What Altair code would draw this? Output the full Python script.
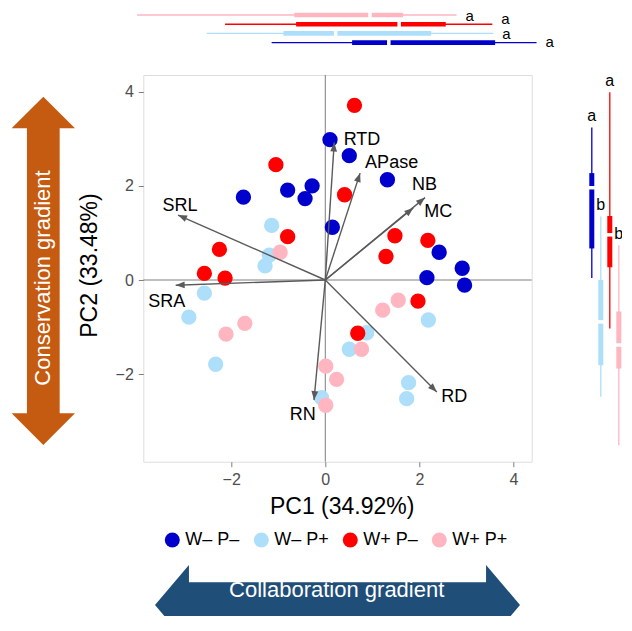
import altair as alt
import numpy as np
import pandas as pd

FONT = "Liberation Sans"

# ---------------- data ----------------
groups = ["W– P–", "W– P+", "W+ P–", "W+ P+"]
palette = ["#0000cd", "#addffa", "#ff0000", "#ffb6c1"]

# PCA scores per treatment
pc1_wm_pm = [0.10, 0.51, 1.32, 0.15, -1.74, -0.80, -0.28, -0.43, 2.42, 2.16, 2.91, 2.96]
pc2_wm_pm = [2.98, 2.64, 2.13, 1.12, 1.76, 1.91, 2.00, 1.73, 0.59, 0.05, 0.25, -0.11]
pc1_wm_pp = [-1.14, -1.19, -1.28, -2.57, -2.90, -2.33, 2.19, 0.88, 0.51, 1.77, 1.73, -0.08]
pc2_wm_pp = [1.16, 0.53, 0.30, -0.28, -0.79, -1.79, -0.85, -1.12, -1.47, -2.18, -2.52, -2.50]
pc1_wp_pm = [0.62, -1.05, 0.41, -0.80, -2.25, -2.57, -2.13, 1.48, 1.29, 2.18, 1.97, 0.69]
pc2_wp_pm = [3.71, 2.45, 1.81, 0.92, 0.65, 0.14, 0.04, 0.94, 0.50, 0.84, -0.45, -1.13]
pc1_wp_pp = [-0.96, -2.11, -1.71, 1.55, 1.22, 0.77, 0.01, 0.24, 0.01]
pc2_wp_pp = [0.59, -1.15, -0.92, -0.43, -0.64, -1.47, -1.83, -2.11, -2.66]

# trait loadings (arrow tips) and label positions
trait_names = ["SRL", "SRA", "RTD", "APase", "NB", "MC", "RD", "RN"]
trait_pc1 = [-3.13, -3.18, 0.19, 0.74, 2.12, 1.87, 2.37, -0.24]
trait_pc2 = [1.38, -0.11, 2.92, 2.27, 1.75, 1.53, -2.38, -2.55]
label_pc1 = [-3.09, -3.37, 0.78, 1.41, 2.11, 2.40, 2.74, -0.48]
label_pc2 = [1.57, -0.46, 2.98, 2.48, 2.02, 1.45, -2.48, -2.87]

# marginal boxplots along PC1 (top), order = groups
top_lo = [-1.14, -2.52, -2.13, -4.00]
top_q1 = [0.57, -0.89, -0.62, -0.66]
top_med = [1.35, 0.22, 1.57, 0.95]
top_q3 = [3.61, 2.25, 2.56, 1.65]
top_hi = [4.49, 3.57, 3.55, 2.79]
top_letters = ["a", "a", "a", "a"]

# marginal boxplots along PC2 (right), order = groups
right_lo = [0.04, -2.48, -1.03, -3.51]
right_q1 = [0.67, -1.81, 0.27, -1.88]
right_med = [1.96, -0.89, 0.96, -1.38]
right_q3 = [2.27, 0.00, 1.36, -0.67]
right_hi = [3.24, 1.35, 3.99, 0.74]
right_letters = ["a", "b", "a", "b"]

gradient_labels = ["Conservation gradient", "Collaboration gradient"]
pc1_title = "PC1 (34.92%)"
pc2_title = "PC2 (33.48%)"

# ---------------- tables ----------------
scores = pd.concat([
    pd.DataFrame({"PC1": pc1_wm_pm, "PC2": pc2_wm_pm, "group": groups[0]}),
    pd.DataFrame({"PC1": pc1_wm_pp, "PC2": pc2_wm_pp, "group": groups[1]}),
    pd.DataFrame({"PC1": pc1_wp_pm, "PC2": pc2_wp_pm, "group": groups[2]}),
    pd.DataFrame({"PC1": pc1_wp_pp, "PC2": pc2_wp_pp, "group": groups[3]}),
], ignore_index=True)

loads = pd.DataFrame({"PC1": trait_pc1, "PC2": trait_pc2, "name": trait_names})
loads["ox"] = 0.0
loads["oy"] = 0.0
loads["ang"] = (np.degrees(np.arctan2(loads["PC1"], loads["PC2"])) + 360) % 360
labels = pd.DataFrame({"PC1": label_pc1, "PC2": label_pc2, "name": trait_names})

color_of = dict(zip(groups, palette))
top_df = pd.DataFrame({"group": groups, "lo": top_lo, "q1": top_q1, "med": top_med,
                       "q3": top_q3, "hi": top_hi, "letter": top_letters})
top_df["col"] = top_df["group"].map(color_of)
right_df = pd.DataFrame({"group": groups, "lo": right_lo, "q1": right_q1, "med": right_med,
                         "q3": right_q3, "hi": right_hi, "letter": right_letters})
right_df["col"] = right_df["group"].map(color_of)

# ---------------- scales / axes ----------------
X_DOM = [-3.868, 4.387]
Y_DOM = [-3.859, 4.354]

def xs():
    return alt.Scale(domain=X_DOM, nice=False, zero=False)

def ys():
    return alt.Scale(domain=Y_DOM, nice=False, zero=False)

axis_common = dict(values=[-2, 0, 2, 4], grid=False, domain=False, tickColor="#7f7f7f",
                   tickSize=5, labelPadding=5, labelFontSize=16, labelColor="#4d4d4d",
                   labelFont=FONT, titleFont=FONT, titleFontSize=23, titleFontWeight="normal",
                   titleColor="black", labelFlush=False)
x_axis = alt.Axis(titlePadding=8, titleX=198.4, **axis_common)
y_axis = alt.Axis(titlePadding=14, titleY=190, **axis_common)

X = lambda f: alt.X(f, type="quantitative", scale=xs(), axis=x_axis, title=pc1_title)
Y = lambda f: alt.Y(f, type="quantitative", scale=ys(), axis=y_axis, title=pc2_title)

ARROW_GREY = "#5a5a5a"

vline = alt.Chart(pd.DataFrame({"PC1": [0.0]})).mark_rule(color="#7f7f7f", strokeWidth=1).encode(x=X("PC1"))
hline = alt.Chart(pd.DataFrame({"PC2": [0.0]})).mark_rule(color="#7f7f7f", strokeWidth=1).encode(y=Y("PC2"))

points = alt.Chart(scores).mark_circle(size=235, opacity=1).encode(
    x=X("PC1"), y=Y("PC2"),
    color=alt.Color("group:N", scale=alt.Scale(domain=groups, range=palette),
                    legend=alt.Legend(orient="none", legendX=20, legendY=456, direction="horizontal",
                                      columns=4, title=None, symbolType="circle", symbolSize=225,
                                      symbolStrokeWidth=0, symbolOpacity=1, labelFontSize=18,
                                      labelFont=FONT, labelColor="black", columnPadding=12,
                                      labelOffset=4, padding=0)),
)

arrows = alt.Chart(loads).mark_rule(color=ARROW_GREY, strokeWidth=1.4).encode(
    x=X("ox"), y=Y("oy"), x2="PC1", y2="PC2")

HEAD = "M0,0L0.38,1L-0.38,1Z"
heads = alt.Chart(loads).mark_point(shape=HEAD, filled=True, size=324, opacity=1,
                                    color=ARROW_GREY, strokeWidth=0).encode(
    x=X("PC1"), y=Y("PC2"), angle=alt.Angle("ang:Q", scale=None))

trait_text = alt.Chart(labels).mark_text(fontSize=18, font=FONT, color="black",
                                         align="center", baseline="middle").encode(
    x=X("PC1"), y=Y("PC2"), text="name:N")

main = alt.layer(vline, hline, points, arrows, heads, trait_text)

# ---------------- top marginal boxplots ----------------
ty = alt.Scale(type="point", domain=groups[::-1], range=[-60, -32.3], padding=0)
tbase = alt.Chart(top_df)
t_whisk = tbase.mark_rule(strokeWidth=1.3).encode(
    x=alt.X("lo:Q", scale=xs(), axis=None), x2="hi:Q",
    y=alt.Y("group:N", scale=ty, axis=None), color=alt.Color("col:N", scale=None))
t_box = tbase.mark_rule(strokeWidth=4.7).encode(
    x=alt.X("q1:Q", scale=xs(), axis=None), x2="q3:Q",
    y=alt.Y("group:N", scale=ty, axis=None), color=alt.Color("col:N", scale=None))
t_gap = tbase.mark_tick(color="white", thickness=3.5, size=9, opacity=1).encode(
    x=alt.X("med:Q", scale=xs(), axis=None), y=alt.Y("group:N", scale=ty, axis=None))

def top_letter_layer(sel, dy):
    return tbase.transform_filter(sel).mark_text(
        align="left", baseline="middle", dx=9, dy=dy, fontSize=15, font=FONT, color="black"
    ).encode(x=alt.X("hi:Q", scale=xs(), axis=None),
             y=alt.Y("group:N", scale=ty, axis=None), text="letter:N")

t_let_pink = top_letter_layer(alt.datum.group == groups[3], 1)
t_let_red = top_letter_layer(alt.datum.group == groups[2], -5)
t_let_light = top_letter_layer(alt.datum.group == groups[1], 1)
t_let_blue = top_letter_layer(alt.datum.group == groups[0], -1)
top_box = alt.layer(t_whisk, t_box, t_gap, t_let_pink, t_let_red, t_let_light, t_let_blue)

# ---------------- right marginal boxplots ----------------
rx = alt.Scale(type="point", domain=groups, range=[448.5, 475.5], padding=0)
rbase = alt.Chart(right_df)
r_whisk = rbase.mark_rule(strokeWidth=1.3).encode(
    y=alt.Y("lo:Q", scale=ys(), axis=None), y2="hi:Q",
    x=alt.X("group:N", scale=rx, axis=None), color=alt.Color("col:N", scale=None))
r_box = rbase.mark_rule(strokeWidth=5).encode(
    y=alt.Y("q1:Q", scale=ys(), axis=None), y2="q3:Q",
    x=alt.X("group:N", scale=rx, axis=None), color=alt.Color("col:N", scale=None))
r_gap = rbase.mark_tick(color="white", thickness=3.5, size=9, opacity=1).encode(
    y=alt.Y("med:Q", scale=ys(), axis=None), x=alt.X("group:N", scale=rx, axis=None))
r_let = rbase.mark_text(align="center", baseline="alphabetic", dy=-6, fontSize=16,
                        font=FONT, color="black").encode(
    y=alt.Y("hi:Q", scale=ys(), axis=None), x=alt.X("group:N", scale=rx, axis=None),
    text="letter:N")
right_box = alt.layer(r_whisk, r_box, r_gap, r_let)

# ---------------- gradient arrows ----------------
V_ARROW = ("M0,-1L0.182,-0.818L0.094,-0.818L0.094,0.818L0.182,0.818L0,1"
           "L-0.182,0.818L-0.094,0.818L-0.094,-0.818L-0.182,-0.818Z")
H_ARROW = ("M-1,0L-0.814,-0.219L-0.814,-0.125L0.814,-0.125L0.814,-0.219L1,0"
           "L0.814,0.219L0.814,0.125L-0.814,0.125L-0.814,0.219Z")

cons_df = pd.DataFrame({"label": [gradient_labels[0]]})
collab_df = pd.DataFrame({"label": [gradient_labels[1]]})

cons_arrow = alt.Chart(cons_df).mark_point(shape=V_ARROW, filled=True, color="#c55a11",
                                           opacity=1, size=348.3 ** 2, strokeWidth=0).encode(
    x=alt.value(-100.0), y=alt.value(195.8))
cons_text = alt.Chart(cons_df).mark_text(angle=270, color="white", fontSize=22, font=FONT,
                                         align="center", baseline="middle").encode(
    x=alt.value(-100.3), y=alt.value(203), text="label:N")
collab_arrow = alt.Chart(collab_df).mark_point(shape=H_ARROW, filled=True, color="#1f4e79",
                                               opacity=1, size=365.0 ** 2, strokeWidth=0).encode(
    x=alt.value(194.2), y=alt.value(530))
collab_text = alt.Chart(collab_df).mark_text(color="white", fontSize=22, font=FONT,
                                             align="center", baseline="middle").encode(
    x=alt.value(193.4), y=alt.value(515), text="label:N")

chart = alt.layer(
    main, top_box, right_box, cons_arrow, cons_text, collab_arrow, collab_text
).resolve_scale(x="independent", y="independent").properties(
    width=388.4, height=386.7,
    padding={"left": 135.3, "top": 67, "right": 90.3, "bottom": 154.3},
    autosize=alt.AutoSizeParams(type="none"),
).configure_view(stroke="#7f7f7f", strokeWidth=1).configure(font=FONT)

chart.save("out.html", embed_options={"renderer": "svg", "actions": False})
